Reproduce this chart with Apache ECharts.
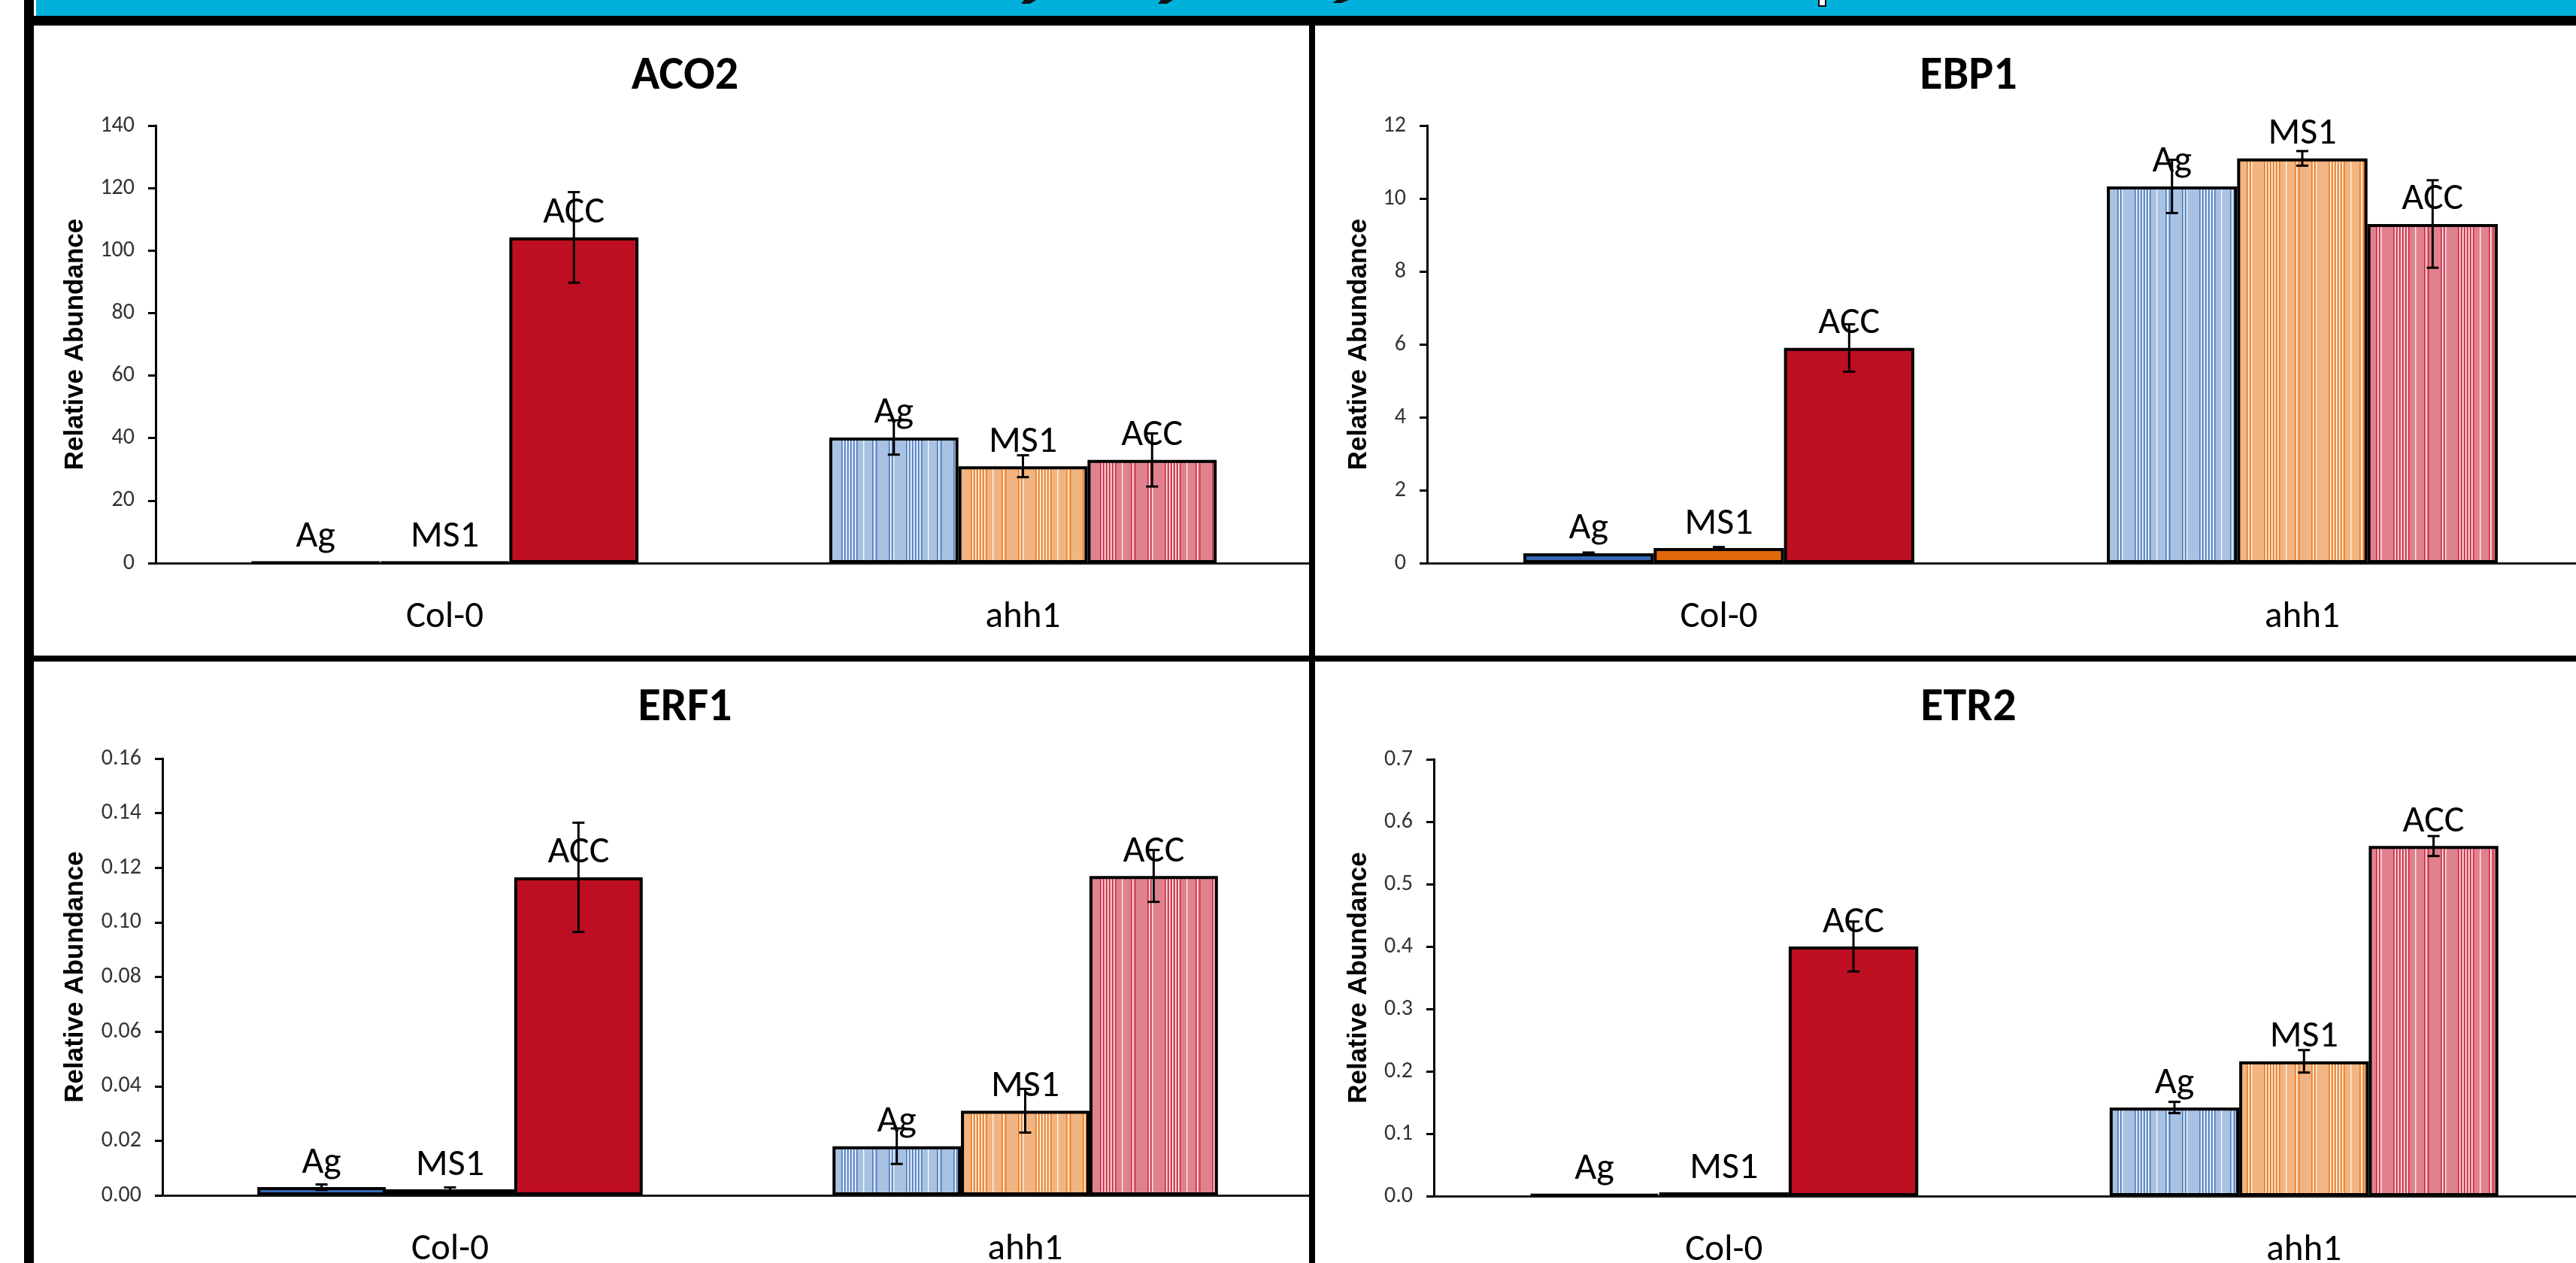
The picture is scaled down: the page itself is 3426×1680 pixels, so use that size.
<!DOCTYPE html>
<html><head><meta charset="utf-8">
<script src="https://cdn.jsdelivr.net/npm/echarts@6/dist/echarts.min.js"></script>
<style>html,body{margin:0;padding:0;background:#fff;overflow:hidden}#c{width:3426px;height:1680px}</style>
</head><body><div id="c"></div>
<script>
// ---------------- DATA ----------------
const categories = ['Col-0', 'ahh1'];
const treatments = ['Ag', 'MS1', 'ACC'];
const panelTitles = ['ACO2', 'EBP1', 'ERF1', 'ETR2'];
const yAxisTitle = 'Relative Abundance';

// values are [Col-0, ahh1]
const aco2Ag = [0.3, 40.2],   aco2AgErr = [0, 5.5];
const aco2MS1 = [0.3, 31.0],  aco2MS1Err = [0, 3.5];
const aco2ACC = [104.2, 33.0], aco2ACCErr = [14.5, 8.5];
const aco2Ticks = ['0', '20', '40', '60', '80', '100', '120', '140'];

const ebp1Ag = [0.27, 10.33], ebp1AgErr = [0.02, 0.73];
const ebp1MS1 = [0.41, 11.1], ebp1MS1Err = [0.03, 0.2];
const ebp1ACC = [5.9, 9.3],   ebp1ACCErr = [0.65, 1.2];
const ebp1Ticks = ['0', '2', '4', '6', '8', '10', '12'];

const erf1Ag = [0.003, 0.018],   erf1AgErr = [0.001, 0.0065];
const erf1MS1 = [0.0022, 0.031], erf1MS1Err = [0.0007, 0.008];
const erf1ACC = [0.1165, 0.117], erf1ACCErr = [0.02, 0.0095];
const erf1Ticks = ['0.00', '0.02', '0.04', '0.06', '0.08', '0.10', '0.12', '0.14', '0.16'];

const etr2Ag = [0.003, 0.142], etr2AgErr = [0, 0.009];
const etr2MS1 = [0.006, 0.216], etr2MS1Err = [0, 0.018];
const etr2ACC = [0.40, 0.561], etr2ACCErr = [0.04, 0.016];
const etr2Ticks = ['0.0', '0.1', '0.2', '0.3', '0.4', '0.5', '0.6', '0.7'];

// ---------------- STYLE ----------------
const FONT = 'Carlito, Calibri, Lato, "Open Sans", sans-serif';
const solidColors = ['#3569B3', '#E2680C', '#BE0E22'];
const lightColors = ['#A9C2E1', '#F2B481', '#E0828E'];
const stripeColors = ['#4A7DC0', '#EC7C20', '#CF2C47'];

function stripePattern(base, dark) {
  const W = 86;
  const cv = document.createElement('canvas');
  cv.width = W; cv.height = 8;
  const ctx = cv.getContext('2d');
  ctx.fillStyle = base; ctx.fillRect(0, 0, W, 8);
  ctx.fillStyle = dark;
  [1, 5, 9, 13, 17, 21, 42, 47, 64, 68].forEach(x => ctx.fillRect(x, 0, 1.5, 8));
  ctx.fillStyle = 'rgba(255,255,255,0.9)';
  [3, 7, 11, 15, 19, 30, 44, 66, 70].forEach(x => ctx.fillRect(x, 0, 1.3, 8));
  return cv;
}
const patterns = lightColors.map((c, i) => stripePattern(c, stripeColors[i]));

const panels = [
  { title: panelTitles[0], vals: [aco2Ag, aco2MS1, aco2ACC], errs: [aco2AgErr, aco2MS1Err, aco2ACCErr], ticks: aco2Ticks, interval: 20,
    grid: { left: 207, top: 167, width: 1538, height: 582 }, titleX: 906, titleY: 66, nameGap: 89 },
  { title: panelTitles[1], vals: [ebp1Ag, ebp1MS1, ebp1ACC], errs: [ebp1AgErr, ebp1MS1Err, ebp1ACCErr], ticks: ebp1Ticks, interval: 2,
    grid: { left: 1898, top: 167, width: 1552, height: 582 }, titleX: 2613, titleY: 66, nameGap: 73 },
  { title: panelTitles[2], vals: [erf1Ag, erf1MS1, erf1ACC], errs: [erf1AgErr, erf1MS1Err, erf1ACCErr], ticks: erf1Ticks, interval: 0.02,
    grid: { left: 216, top: 1009, width: 1530, height: 581 }, titleX: 906, titleY: 906, nameGap: 98 },
  { title: panelTitles[3], vals: [etr2Ag, etr2MS1, etr2ACC], errs: [etr2AgErr, etr2MS1Err, etr2ACCErr], ticks: etr2Ticks, interval: 0.1,
    grid: { left: 1907, top: 1010, width: 1543, height: 581 }, titleX: 2613, titleY: 906, nameGap: 82 }
];

const GAP = 0.33;
const option = {
  animation: false,
  backgroundColor: '#ffffff',
  title: [], grid: [], xAxis: [], yAxis: [], series: [],
  graphic: [
    { type: 'rect', shape: { x: 48, y: 0, width: 3378, height: 21 }, style: { fill: '#00B1DC' }, z: 100 },
    { type: 'polygon', shape: { points: [[1362, 0], [1378, 0], [1370, 5], [1358, 5]] }, style: { fill: '#111' }, z: 101 },
    { type: 'polygon', shape: { points: [[1544, 0], [1560, 0], [1552, 5], [1540, 5]] }, style: { fill: '#111' }, z: 101 },
    { type: 'polygon', shape: { points: [[1778, 0], [1794, 0], [1784, 4], [1772, 4]] }, style: { fill: '#111' }, z: 101 },
    { type: 'rect', shape: { x: 2419, y: -3, width: 9, height: 11 }, style: { fill: '#fff', stroke: '#000', lineWidth: 2 }, z: 101 },
    { type: 'rect', shape: { x: 32, y: 21, width: 3394, height: 13 }, style: { fill: '#000' }, z: 100 },
    { type: 'rect', shape: { x: 32, y: 0, width: 13, height: 1680 }, style: { fill: '#000' }, z: 100 },
    { type: 'rect', shape: { x: 1741, y: 34, width: 8, height: 1646 }, style: { fill: '#000' }, z: 100 },
    { type: 'rect', shape: { x: 45, y: 872, width: 3381, height: 8 }, style: { fill: '#000' }, z: 100 }
  ]
};

panels.forEach((p, gi) => {
  option.title.push({
    text: p.title, left: p.titleX, top: p.titleY, textAlign: 'center',
    textStyle: { fontFamily: FONT, fontWeight: 'bold', fontSize: 62, color: '#000', lineHeight: 62 }
  });
  option.grid.push(Object.assign({ outerBoundsMode: 'none', containLabel: false }, p.grid));
  option.xAxis.push({
    type: 'category', gridIndex: gi, data: categories,
    axisLine: { lineStyle: { color: '#1a1a1a', width: 3 } },
    axisTick: { show: false },
    axisLabel: { fontFamily: FONT, fontSize: 49, color: '#000', margin: 48, lineHeight: 49 }
  });
  const nTicks = p.ticks.length - 1;
  option.yAxis.push({
    type: 'value', gridIndex: gi, min: 0, max: p.interval * nTicks, interval: p.interval,
    splitLine: { show: false },
    axisLine: { show: true, lineStyle: { color: '#000', width: 3 } },
    axisTick: { show: true, length: 10, lineStyle: { color: '#000', width: 3 } },
    axisLabel: {
      fontFamily: FONT, fontSize: 30, color: '#333', margin: 28,
      formatter: v => p.ticks[Math.round(v / p.interval)]
    },
    name: yAxisTitle, nameLocation: 'middle', nameGap: p.nameGap, nameRotate: 90,
    nameTextStyle: { fontFamily: '"Liberation Sans", Arial, sans-serif', fontWeight: 'bold', fontSize: 35, color: '#000' }
  });
  treatments.forEach((t, ti) => {
    option.series.push({
      type: 'bar', name: t, xAxisIndex: gi, yAxisIndex: gi,
      barGap: '0%', barCategoryGap: (GAP * 100) + '%',
      data: p.vals[ti].map((v, ci) => ({
        value: v,
        itemStyle: ci === 0
          ? { color: solidColors[ti] }
          : { color: { image: patterns[ti], repeat: 'repeat' } }
      })),
      itemStyle: { borderColor: '#000', borderWidth: 4 },
      label: { show: true, position: 'top', distance: 7, formatter: t, fontFamily: FONT, fontSize: 50, color: '#000' }
    });
  });
  const edata = [];
  treatments.forEach((t, ti) => categories.forEach((c, ci) => edata.push([ci, p.vals[ti][ci], p.errs[ti][ci], ti])));
  option.series.push({
    type: 'custom', xAxisIndex: gi, yAxisIndex: gi, z: 10, data: edata,
    encode: { x: 0, y: 1 },
    renderItem: function (params, api) {
      const ci = api.value(0), v = api.value(1), e = api.value(2), ti = api.value(3);
      if (!e) return null;
      const band = api.size([1, 0])[0];
      const bw = band * (1 - GAP) / 3;
      const top = api.coord([ci, v + e]);
      const bot = api.coord([ci, v - e]);
      const x = top[0] + (ti - 1) * bw;
      const st = { stroke: '#000', lineWidth: 3 };
      return { type: 'group', children: [
        { type: 'line', shape: { x1: x, y1: top[1], x2: x, y2: bot[1] }, style: st },
        { type: 'line', shape: { x1: x - 8, y1: top[1], x2: x + 8, y2: top[1] }, style: st },
        { type: 'line', shape: { x1: x - 8, y1: bot[1], x2: x + 8, y2: bot[1] }, style: st }
      ] };
    }
  });
});

const chart = echarts.init(document.getElementById('c'), null, { renderer: 'canvas' });
chart.setOption(option);
</script>
</body></html>
